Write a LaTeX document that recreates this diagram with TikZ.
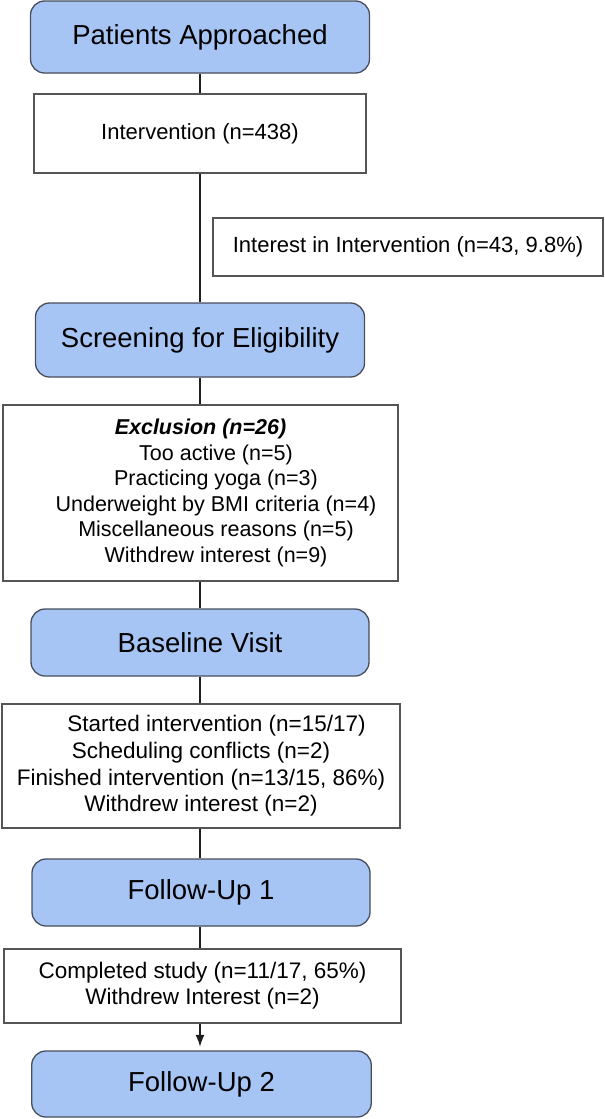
\documentclass[tikz,border=0pt]{standalone}
\usepackage{fontspec}
\setmainfont{Liberation Sans}
\usetikzlibrary{arrows.meta}
\definecolor{stageblue}{RGB}{166,197,245}
\definecolor{stageedge}{RGB}{72,78,92}
\definecolor{boxedge}{RGB}{85,85,85}
\definecolor{linecol}{RGB}{30,30,30}
\tikzset{
  stage/.style={draw=stageedge, line width=1.3pt, fill=stageblue, rounded corners=14pt,
    inner sep=0pt, align=center, font=\fontsize{27.5}{32}\selectfont, text=black},
  infobox/.style={draw=boxedge, line width=1.3pt, fill=white, inner sep=0pt,
    align=center, text=black},
  conn/.style={draw=linecol, line width=1.6pt},
}
\begin{document}
\begin{tikzpicture}[x=1pt,y=-1pt]
\useasboundingbox (0,0) rectangle (605,1119);

\node[stage, minimum width=339pt, minimum height=72pt] (pa) at (200,37) {Patients Approached};
\node[infobox, minimum width=332pt, minimum height=79pt, font=\fontsize{22}{26}\selectfont] (int) at (200,133.5) {Intervention (n=438)};
\node[infobox, minimum width=390pt, minimum height=58pt, font=\fontsize{22}{26}\selectfont] (interest) at (408,247) {Interest in Intervention (n=43, 9.8\%)};
\node[stage, minimum width=329pt, minimum height=74pt] (scr) at (200,340) {Screening for Eligibility};
\node[infobox, minimum width=395pt, minimum height=176pt, font=\fontsize{21.5}{25.6}\selectfont] (exc) at (200.5,493)
  {\textbf{\textit{Exclusion (n=26)}}\\
   \hspace*{31pt}Too active (n=5)\\
   \hspace*{31pt}Practicing yoga (n=3)\\
   \hspace*{31pt}Underweight by BMI criteria (n=4)\\
   \hspace*{31pt}Miscellaneous reasons (n=5)\\
   \hspace*{31pt}Withdrew interest (n=9)};
\node[stage, minimum width=338pt, minimum height=67pt] (base) at (200,642.5) {Baseline Visit};
\node[infobox, minimum width=398pt, minimum height=124pt, font=\fontsize{22.5}{26.7}\selectfont] (bv) at (201,766)
  {\hspace*{31pt}Started intervention (n=15/17)\\
   Scheduling conflicts (n=2)\\
   Finished intervention (n=13/15, 86\%)\\
   Withdrew interest (n=2)};
\node[stage, minimum width=338pt, minimum height=67pt] (fu1) at (201,892.5) {Follow-Up 1};
\node[infobox, minimum width=397pt, minimum height=74pt, font=\fontsize{22.5}{26}\selectfont] (fv) at (202.5,986)
  {Completed study (n=11/17, 65\%)\\
   Withdrew Interest (n=2)};
\node[stage, minimum width=339.5pt, minimum height=66pt] (fu2) at (201.5,1084) {Follow-Up 2};

\coordinate (cx) at (200,0);
\draw[conn] (cx |- pa.south) -- (cx |- int.north);
\draw[conn] (cx |- int.south) -- (cx |- scr.north);
\draw[conn] (cx |- scr.south) -- (cx |- exc.north);
\draw[conn] (cx |- exc.south) -- (cx |- base.north);
\draw[conn] (cx |- base.south) -- (cx |- bv.north);
\draw[conn] (cx |- bv.south) -- (cx |- fu1.north);
\draw[conn] (cx |- fu1.south) -- (cx |- fv.north);
\draw[conn, -{Latex[length=12pt,width=9pt]}, shorten >=3.5pt] (cx |- fv.south) -- (cx |- fu2.north);
\end{tikzpicture}
\end{document}
